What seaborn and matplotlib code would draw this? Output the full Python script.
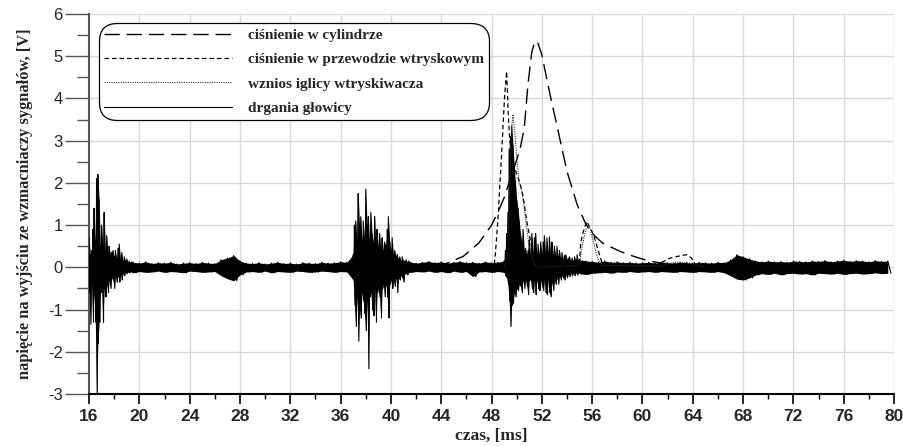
import numpy as np
import pandas as pd
import seaborn as sns
import matplotlib.pyplot as plt
from matplotlib.ticker import MultipleLocator

# ----------------------------------------------------------------
# Data (time in ms, signal in V)
# ----------------------------------------------------------------
labels = ["ciśnienie w cylindrze",
          "ciśnienie w przewodzie wtryskowym",
          "wznios iglicy wtryskiwacza",
          "drgania głowicy"]

# cylinder pressure (long dash)
cyl_t = [43.5, 44.5, 45.75, 47.0, 48.0, 48.5, 49.0, 49.5, 50.0, 50.3, 50.6, 50.9,
         51.2, 51.45, 51.7, 52.0, 52.65, 53.3, 54.0, 54.8, 55.5, 56.0, 56.8, 58.2,
         59.3, 60.5, 61.5, 63.0, 65.0, 67.0]
cyl_v = [0.0, 0.1, 0.26, 0.58, 1.0, 1.3, 1.65, 2.1, 2.55, 2.85, 3.3, 4.35,
         5.1, 5.36, 5.3, 5.03, 4.09, 3.22, 2.27, 1.49, 1.02, 0.8, 0.58, 0.38,
         0.26, 0.15, 0.1, 0.06, 0.03, 0.0]

# injection line pressure (short dash)
inj_t = [47.8, 48.2, 48.3, 48.4, 48.53, 48.65, 48.8, 48.93, 49.05, 49.2, 49.33, 49.45,
         49.6, 49.8, 50.0, 50.26, 50.5, 50.8, 51.0, 51.3, 51.6, 54.8, 55.0, 55.1,
         55.3, 55.56, 55.8, 56.1, 56.5, 56.75, 57.0, 61.0, 61.4, 62.2, 62.8, 63.5,
         63.9, 64.2, 64.6, 66.0]
inj_v = [0.0, 0.02, 0.3, 0.7, 1.25, 1.9, 2.67, 3.46, 4.1, 4.64, 3.6, 3.0,
         2.7, 2.4, 2.2, 2.0, 1.7, 1.09, 0.78, 0.3, 0.02, 0.02, 0.2, 0.6,
         0.85, 1.09, 0.95, 0.78, 0.38, 0.14, 0.02, 0.02, 0.1, 0.22, 0.26, 0.3,
         0.22, 0.07, 0.02, 0.0]

# needle lift (dotted)
ndl_t = [49.0, 49.3, 49.45, 49.6, 49.7, 49.85, 50.0, 50.2, 50.4, 50.6, 50.8, 51.0,
         51.2, 51.5, 51.8, 55.0, 55.2, 55.5, 55.8, 56.1, 56.4, 56.7, 61.5, 62.2,
         63.0, 63.8, 64.3, 65.0]
ndl_v = [0.0, 0.3, 2.0, 3.3, 3.62, 3.2, 2.6, 2.0, 1.8, 1.4, 0.9, 0.5,
         0.25, 0.05, 0.0, 0.05, 0.5, 0.9, 0.95, 0.6, 0.25, 0.05, 0.03, 0.1,
         0.12, 0.1, 0.05, 0.0]

# head vibration: max / min of the signal in consecutive time bins
# (segment start, bin width, maxima, minima)
vib_a = (16.0, 0.1,
         [0.7, 0.3, 0.4, 0.9, 1.4, 0.6, 2.1, 2.2, 1.6, 0.5, 1.0, 0.5, 1.3, 0.4, 0.75,
          0.35, 0.5, 0.3, 0.35, 0.4, 0.25, 0.4, 0.2, 0.45, 0.55, 0.2, 0.35, 0.15, 0.25,
          0.15, 0.2, 0.12, 0.15, 0.11, 0.13],
         [-0.6, -1.35, -0.4, -1.3, -0.6, -1.3, -3.05, -1.8, -1.3, -0.6, -0.5, -1.3,
          -0.5, -0.7, -0.4, -0.6, -0.3, -0.5, -0.25, -0.3, -0.5, -0.2, -0.35, -0.2,
          -0.35, -0.15, -0.3, -0.15, -0.2, -0.12, -0.15, -0.11, -0.13, -0.1, -0.12])
vib_b = (19.5, 0.5,
         [0.12, 0.10, 0.13, 0.09, 0.11, 0.10, 0.12, 0.08, 0.10, 0.11, 0.09, 0.12,
          0.10, 0.09, 0.18, 0.22, 0.28, 0.15, 0.10, 0.09, 0.11, 0.08, 0.10, 0.12,
          0.09, 0.10, 0.08, 0.11, 0.10, 0.09, 0.12, 0.10, 0.11, 0.13, 0.12],
         [-0.13, -0.10, -0.12, -0.11, -0.09, -0.12, -0.10, -0.11, -0.13, -0.09, -0.10,
          -0.12, -0.11, -0.10, -0.20, -0.27, -0.32, -0.18, -0.11, -0.10, -0.12, -0.09,
          -0.13, -0.10, -0.11, -0.12, -0.09, -0.10, -0.12, -0.11, -0.09, -0.10, -0.12,
          -0.10, -0.11])
vib_c = (37.0, 0.1,
         [0.3, 1.0, 1.1, 0.6, 1.75, 1.0, 1.2, 0.6, 1.1, 0.7, 1.85, 1.0, 1.2, 0.6, 1.3,
          0.8, 0.6, 1.2, 0.5, 0.9, 0.5, 0.8, 0.4, 0.7, 0.4, 0.6, 0.5, 0.9, 1.2, 0.6,
          0.4, 0.7, 0.3, 0.4, 0.25, 0.3, 0.2, 0.25, 0.15, 0.25, 0.15, 0.15, 0.18, 0.12,
          0.15],
         [-0.3, -0.9, -1.4, -0.7, -1.75, -1.0, -1.2, -0.6, -0.8, -1.1, -1.5, -0.8,
          -2.4, -0.7, -0.6, -1.0, -1.15, -0.5, -1.3, -0.6, -0.5, -0.7, -1.2, -0.5,
          -0.4, -0.7, -0.4, -0.7, -1.2, -0.4, -0.3, -0.5, -0.3, -0.45, -0.25, -0.6,
          -0.25, -0.3, -0.2, -0.25, -0.35, -0.15, -0.15, -0.18, -0.12])
vib_d = (41.5, 0.5,
         [0.13, 0.10, 0.12, 0.14, 0.11, 0.13, 0.10, 0.12, 0.14, 0.11, 0.12, 0.10,
          0.13, 0.11, 0.12],
         [-0.12, -0.10, -0.11, -0.09, -0.12, -0.10, -0.13, -0.09, -0.12, -0.10,
          -0.22, -0.11, -0.10, -0.12, -0.10])
vib_e = (49.0, 0.1,
         [0.15, 0.4, 0.8, 1.3, 2.8, 3.1, 3.35, 2.9, 2.4, 2.0, 1.6, 1.4, 1.1, 0.8, 0.6,
          0.9, 0.4, 0.45, 0.3, 0.4, 0.65, 0.3, 0.8, 0.35, 0.7, 0.8, 0.3, 0.55, 0.3,
          0.6, 0.3, 0.6, 0.75, 0.3, 0.7, 0.35, 0.72, 0.3, 0.6, 0.3, 0.5, 0.25, 0.5,
          0.25, 0.4, 0.2, 0.35, 0.2, 0.28, 0.3, 0.18, 0.22, 0.25, 0.15, 0.22, 0.15,
          0.25, 0.15, 0.3, 0.15],
         [-0.12, -0.2, -0.25, -0.4, -0.8, -1.4, -0.9, -0.85, -0.6, -0.7, -0.5, -0.55,
          -0.4, -0.45, -0.6, -0.3, -0.5, -0.3, -0.45, -0.65, -0.3, -0.3, -0.5, -0.6,
          -0.3, -0.65, -0.3, -0.5, -0.55, -0.3, -0.45, -0.55, -0.3, -0.6, -0.65,
          -0.3, -0.6, -0.7, -0.35, -0.55, -0.3, -0.4, -0.25, -0.4, -0.2, -0.3, -0.2,
          -0.25, -0.3, -0.18, -0.25, -0.15, -0.22, -0.15, -0.2, -0.13, -0.2, -0.13,
          -0.18, -0.13])
vib_f = (55.0, 0.5,
         [0.18, 0.15, 0.14, 0.12, 0.15, 0.12, 0.13, 0.11, 0.12, 0.10, 0.11, 0.12,
          0.10, 0.12, 0.11, 0.10, 0.12, 0.11, 0.10, 0.12, 0.11, 0.10, 0.12, 0.11,
          0.18, 0.30, 0.25, 0.20, 0.15, 0.13, 0.15, 0.13, 0.14, 0.12, 0.15, 0.14,
          0.13, 0.15, 0.14, 0.16, 0.13, 0.15, 0.17, 0.14, 0.16, 0.15, 0.13, 0.16,
          0.14, 0.15],
         [-0.15, -0.17, -0.14, -0.13, -0.12, -0.14, -0.11, -0.12, -0.10, -0.12,
          -0.11, -0.10, -0.12, -0.10, -0.11, -0.12, -0.10, -0.11, -0.12, -0.10,
          -0.11, -0.12, -0.10, -0.13, -0.20, -0.28, -0.30, -0.25, -0.18, -0.15,
          -0.17, -0.14, -0.18, -0.15, -0.14, -0.16, -0.15, -0.18, -0.14, -0.15,
          -0.16, -0.14, -0.17, -0.15, -0.14, -0.16, -0.15, -0.13, -0.15, -0.14])
vib_segments = [vib_a, vib_b, vib_c, vib_d, vib_e, vib_f]

# ----------------------------------------------------------------
# Turn the min/max bins into a zig-zag trace
# ----------------------------------------------------------------
bin_t, bin_hi, bin_lo, zz_t, zz_v = [], [], [], [], []
for start, step, hi, lo in vib_segments:
    t0 = start + step * np.arange(len(hi))
    bin_t.append(t0)
    bin_hi.append(np.array(hi))
    bin_lo.append(np.array(lo))
    zz_t.append(np.column_stack([t0, t0 + step / 2]).ravel())
    zz_v.append(np.column_stack([hi, lo]).ravel())
bin_t = np.concatenate(bin_t)
bin_hi = np.concatenate(bin_hi)
bin_lo = np.concatenate(bin_lo)
vib = pd.DataFrame({"t": np.concatenate(zz_t), "v": np.concatenate(zz_v)})

# ----------------------------------------------------------------
# Plot
# ----------------------------------------------------------------
sns.set_theme(style="ticks")
plt.rcParams["font.family"] = ["Liberation Sans", "DejaVu Sans"]
plt.rcParams["axes.unicode_minus"] = False

fig = plt.figure(figsize=(9.04, 4.46), dpi=100)
ax = fig.add_axes([0.0985, 0.1166, 0.8905, 0.852])

ax.fill_between(bin_t, bin_lo, bin_hi, color="black", lw=0, zorder=2)
sns.lineplot(data=vib, x="t", y="v", estimator=None, sort=False, color="black",
             lw=0.8, label=labels[3], ax=ax, zorder=3)
sns.lineplot(x=cyl_t, y=cyl_v, color="black", lw=1.0, label=labels[0], ax=ax, zorder=4)
ax.lines[-1].set_dashes((11, 5))
sns.lineplot(x=inj_t, y=inj_v, color="black", lw=0.9, label=labels[1], ax=ax, zorder=4)
ax.lines[-1].set_dashes((3.6, 2.4))
sns.lineplot(x=ndl_t, y=ndl_v, color="#333333", lw=0.8, label=labels[2], ax=ax, zorder=4)
ax.lines[-1].set_dashes((1, 1.1))

ax.set_xlim(16, 80)
ax.set_ylim(-3, 6)
ax.xaxis.set_major_locator(MultipleLocator(4))
ax.xaxis.set_minor_locator(MultipleLocator(2))
ax.yaxis.set_major_locator(MultipleLocator(1))
ax.yaxis.set_minor_locator(MultipleLocator(0.5))
ax.grid(True, which="major", color="#d9d9d9", lw=1.0)

for s in ["top", "right"]:
    ax.spines[s].set_visible(False)
ax.spines["left"].set_color("#555555")
ax.spines["left"].set_linewidth(1.5)
ax.spines["bottom"].set_color("black")
ax.spines["bottom"].set_linewidth(1.5)

ax.tick_params(axis="y", which="major", direction="out", length=17, width=1.0,
               color="#555555", pad=2, labelsize=12)
ax.tick_params(axis="y", which="minor", direction="out", length=8.5, width=1.0,
               color="#555555")
ax.tick_params(axis="x", which="major", direction="out", length=7, width=1.2,
               color="black", pad=4, labelsize=12.5)
ax.tick_params(axis="x", which="minor", direction="out", length=3.6, width=1.0,
               color="black")
for lab in ax.get_xticklabels():
    lab.set_fontweight("bold")

serif = {"family": ["Liberation Serif", "DejaVu Serif"], "weight": "bold"}
ax.set_xlabel("czas, [ms]", fontdict=serif, fontsize=12.5, labelpad=2.5)
ax.set_ylabel("napięcie na wyjściu ze wzmacniaczy sygnałów, [V]", fontdict=serif,
              fontsize=11.8, labelpad=11)

handles, labs = ax.get_legend_handles_labels()
order = [labs.index(l) for l in labels]
leg = ax.legend([handles[i] for i in order], [labs[i] for i in order],
                loc="upper left", bbox_to_anchor=(0.0124, 0.976), borderaxespad=0,
                prop={"family": ["Liberation Serif", "DejaVu Serif"], "weight": "bold", "size": 11},
                handlelength=8.4, handletextpad=1.0, labelspacing=0.7,
                borderpad=0.33, fancybox=True, framealpha=1)
frame = leg.get_frame()
frame.set_edgecolor("black")
frame.set_linewidth(0.9)
frame.set_boxstyle("round", pad=0, rounding_size=1.2)

fig.savefig("out.png", dpi=100)
